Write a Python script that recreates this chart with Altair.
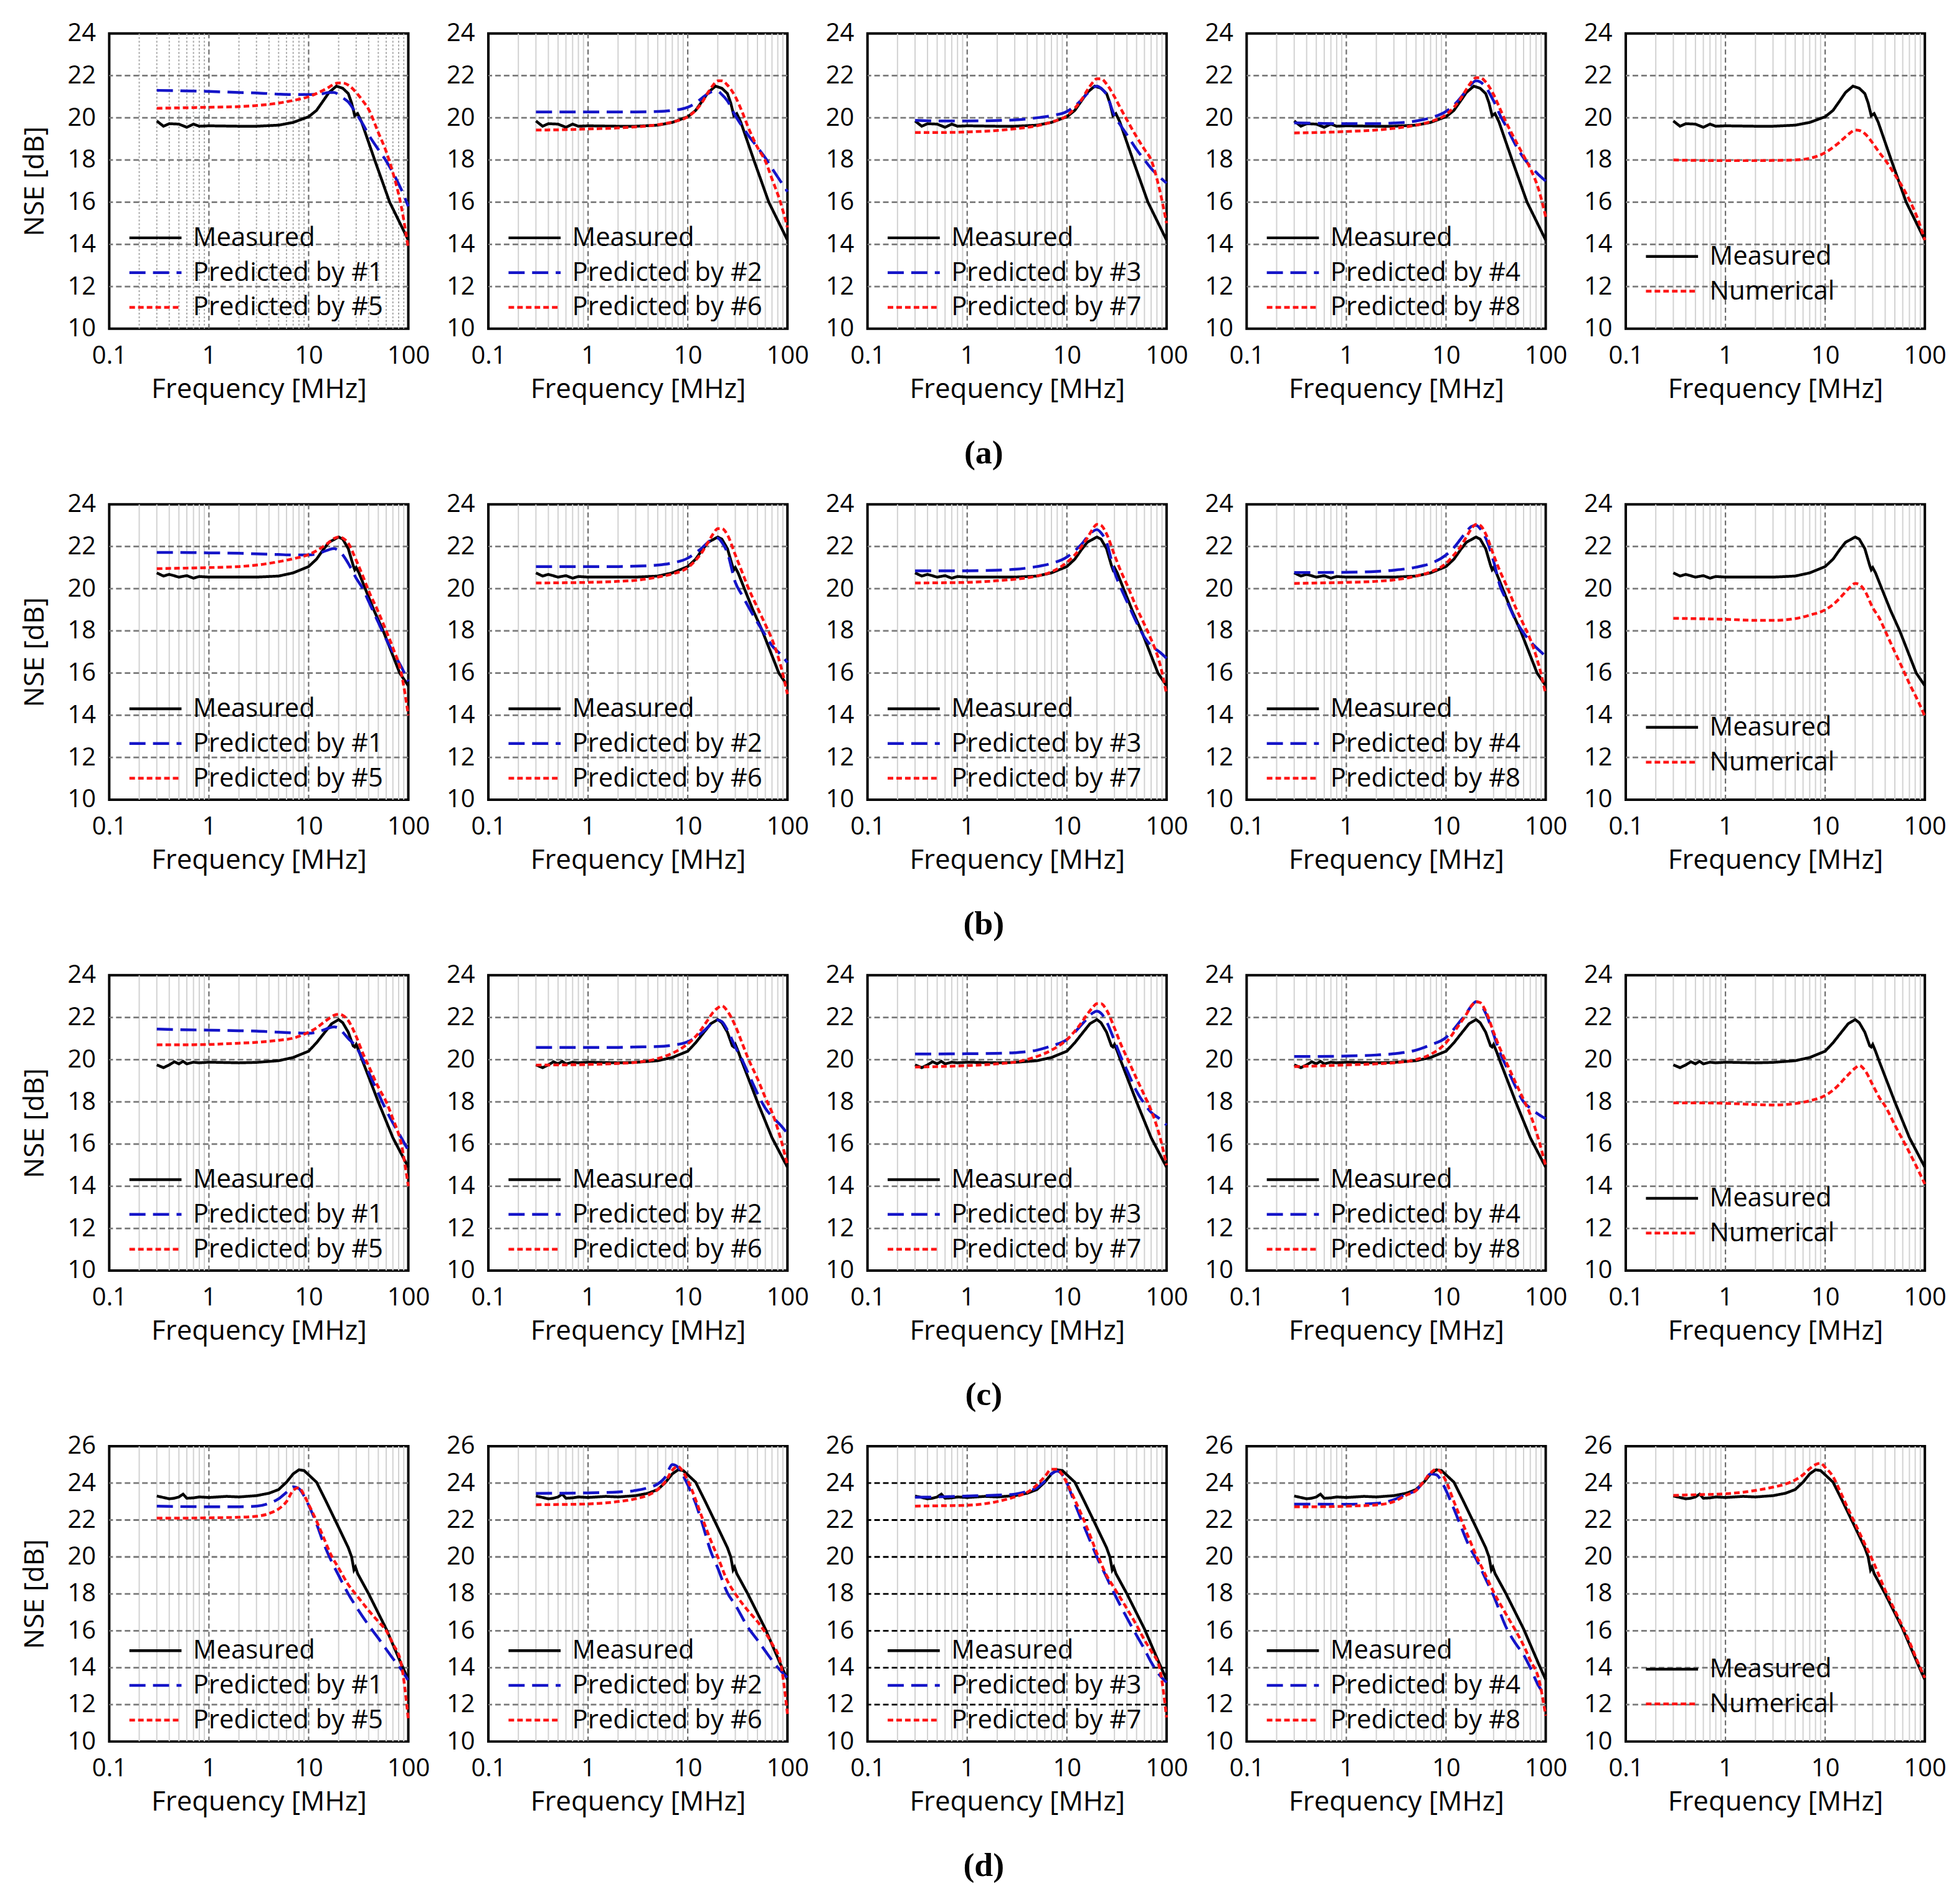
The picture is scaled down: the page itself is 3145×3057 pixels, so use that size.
import altair as alt
import pandas as pd

FONT = "Open Sans"
BLUE = "#1414c8"
RED = "#ff1414"
DASH_B = [26, 12]
DASH_R = [9, 5]

X_TICKS = [0.1, 1, 10, 100]
X_MAJOR_GRID = [1, 10]
X_MINOR_GRID = [0.2, 0.3, 0.4, 0.5, 0.6, 0.7, 0.8, 0.9, 2, 3, 4, 5, 6, 7, 8, 9,
                20, 30, 40, 50, 60, 70, 80, 90]
Y_TICKS_ABC = [10, 12, 14, 16, 18, 20, 22, 24]
Y_TICKS_D = [10, 12, 14, 16, 18, 20, 22, 24, 26]

# ---------------- measured curves ----------------
FMA = [0.3, 0.35, 0.4, 0.5, 0.6, 0.7, 0.8, 1, 2, 3, 5, 7, 10, 12, 14, 16, 19, 22, 25, 27, 29, 31, 34, 46, 65, 100]
MA = [19.85, 19.6, 19.72, 19.7, 19.55, 19.7, 19.6, 19.62, 19.6, 19.6, 19.65, 19.78, 20.05, 20.35, 20.8, 21.2,
      21.5, 21.4, 21.15, 20.7, 20.1, 20.2, 19.8, 18.0, 16.0, 14.2]

FMB = [0.3, 0.35, 0.4, 0.5, 0.6, 0.7, 0.8, 1, 2, 3, 5, 7, 10, 12, 14, 16, 20, 22, 25, 28, 29, 30, 32, 37, 45, 56, 82, 100]
MB = [20.75, 20.6, 20.68, 20.55, 20.62, 20.5, 20.58, 20.55, 20.55, 20.55, 20.6, 20.75, 21.05, 21.4, 21.85, 22.2,
      22.45, 22.35, 21.9, 21.1, 20.9, 21.0, 20.75, 20.0, 19.0, 18.0, 16.0, 15.4]

FMC = [0.3, 0.35, 0.4, 0.45, 0.5, 0.55, 0.6, 0.7, 0.8, 1, 2, 3, 5, 7, 10, 12, 14, 17, 20, 22, 25, 28, 29, 30, 32, 35, 50, 70, 100]
MC = [19.75, 19.62, 19.75, 19.9, 19.8, 19.92, 19.8, 19.88, 19.85, 19.88, 19.85, 19.87, 19.95, 20.1, 20.4, 20.8,
      21.2, 21.7, 21.9, 21.75, 21.3, 20.65, 20.6, 20.72, 20.4, 19.9, 18.0, 16.3, 14.9]

FMD = [0.3, 0.35, 0.4, 0.45, 0.5, 0.55, 0.6, 0.7, 0.8, 1, 1.5, 2, 3, 4, 5, 6, 7, 8, 9, 10, 12, 15, 20, 25, 27,
       28.5, 29.5, 31, 40, 60, 85, 100]
MD = [23.3, 23.22, 23.15, 23.18, 23.25, 23.4, 23.18, 23.2, 23.25, 23.22, 23.28, 23.25, 23.32, 23.45, 23.65, 24.05,
      24.5, 24.72, 24.68, 24.45, 24.05, 23.0, 21.6, 20.5, 20.0, 19.3, 19.45, 19.1, 18.0, 16.1, 14.2, 13.35]

# ---------------- predicted / numerical, rows (a)-(c) ----------------
FP = [0.3, 0.5, 1, 2, 3, 5, 7, 10, 12, 14, 16, 18, 20, 22, 25, 30, 35, 40, 50, 60, 70, 85, 100]

A1_P1 = [21.3, 21.28, 21.25, 21.2, 21.18, 21.12, 21.1, 21.1, 21.12, 21.15, 21.2, 21.2, 21.1, 20.95, 20.75, 20.2, 19.7, 19.2, 18.5, 17.95, 17.4, 16.6, 15.8]
A1_P5 = [20.45, 20.47, 20.5, 20.53, 20.58, 20.7, 20.82, 21.0, 21.15, 21.3, 21.45, 21.6, 21.65, 21.65, 21.55, 21.2, 20.8, 20.4, 19.3, 18.4, 17.4, 15.8, 13.8]
A2_P2 = [20.28, 20.28, 20.28, 20.28, 20.28, 20.3, 20.35, 20.5, 20.7, 20.95, 21.15, 21.25, 21.25, 21.1, 20.8, 20.1, 19.6, 19.2, 18.6, 18.1, 17.6, 17.0, 16.5]
A2_P6 = [19.42, 19.43, 19.47, 19.52, 19.57, 19.67, 19.8, 20.05, 20.35, 20.75, 21.2, 21.55, 21.75, 21.75, 21.55, 21.0, 20.3, 19.6, 18.6, 17.95, 17.1, 16.0, 14.8]
A3_P3 = [19.88, 19.85, 19.85, 19.87, 19.9, 20.0, 20.1, 20.3, 20.55, 20.85, 21.15, 21.4, 21.5, 21.4, 21.1, 20.1, 19.6, 19.2, 18.5, 18.0, 17.6, 17.2, 16.9]
A3_P7 = [19.3, 19.3, 19.33, 19.4, 19.48, 19.62, 19.8, 20.1, 20.45, 20.85, 21.3, 21.65, 21.85, 21.85, 21.6, 21.0, 20.4, 19.9, 19.1, 18.5, 18.0, 16.6, 15.0]
A4_P4 = [19.76, 19.74, 19.72, 19.72, 19.75, 19.85, 20.0, 20.3, 20.6, 20.95, 21.3, 21.6, 21.75, 21.7, 21.45, 20.8, 20.1, 19.6, 18.7, 18.1, 17.7, 17.3, 17.0]
A4_P8 = [19.28, 19.3, 19.35, 19.42, 19.5, 19.65, 19.82, 20.15, 20.5, 20.9, 21.35, 21.7, 21.9, 21.9, 21.7, 21.1, 20.4, 19.8, 18.9, 18.2, 17.6, 16.6, 15.3]
A5_N = [18.0, 17.98, 17.97, 17.97, 17.98, 18.0, 18.08, 18.35, 18.6, 18.85, 19.1, 19.3, 19.42, 19.4, 19.25, 18.8, 18.35, 18.0, 17.3, 16.7, 16.1, 15.2, 14.2]

B1_P1 = [21.72, 21.72, 21.7, 21.68, 21.65, 21.62, 21.6, 21.6, 21.65, 21.75, 21.85, 21.9, 21.8, 21.6, 21.2, 20.5, 20.0, 19.4, 18.4, 17.6, 17.0, 16.3, 15.6]
B1_P5 = [20.95, 20.97, 21.0, 21.05, 21.12, 21.28, 21.42, 21.62, 21.8, 22.0, 22.2, 22.38, 22.45, 22.4, 22.15, 21.35, 20.6, 19.9, 18.9, 18.0, 17.2, 16.0, 14.0]
B2_P2 = [21.05, 21.05, 21.05, 21.05, 21.07, 21.12, 21.22, 21.45, 21.7, 21.95, 22.2, 22.38, 22.4, 22.2, 21.7, 20.3, 19.7, 19.2, 18.4, 17.8, 17.3, 16.9, 16.5]
B2_P6 = [20.27, 20.28, 20.3, 20.35, 20.4, 20.55, 20.7, 21.0, 21.35, 21.75, 22.2, 22.6, 22.85, 22.85, 22.55, 21.6, 20.8, 20.1, 19.1, 18.3, 17.6, 16.4, 15.0]
B3_P3 = [20.85, 20.85, 20.85, 20.88, 20.92, 21.05, 21.2, 21.5, 21.8, 22.1, 22.45, 22.7, 22.8, 22.65, 22.2, 20.8, 20.0, 19.4, 18.4, 17.7, 17.3, 17.0, 16.7]
B3_P7 = [20.27, 20.28, 20.3, 20.38, 20.45, 20.6, 20.8, 21.25, 21.6, 22.0, 22.4, 22.8, 23.05, 23.0, 22.6, 21.6, 20.8, 20.2, 19.1, 18.3, 17.6, 16.5, 15.0]
B4_P4 = [20.77, 20.77, 20.78, 20.82, 20.88, 21.02, 21.2, 21.6, 21.95, 22.35, 22.7, 22.95, 23.0, 22.85, 22.4, 21.3, 20.1, 19.5, 18.5, 17.9, 17.5, 17.1, 16.8]
B4_P8 = [20.25, 20.27, 20.3, 20.35, 20.42, 20.6, 20.8, 21.2, 21.6, 22.0, 22.45, 22.85, 23.05, 23.0, 22.6, 21.6, 20.8, 20.2, 19.1, 18.3, 17.6, 16.4, 15.0]
B5_N = [18.6, 18.58, 18.55, 18.5, 18.5, 18.58, 18.75, 19.0, 19.25, 19.55, 19.85, 20.1, 20.25, 20.2, 19.9, 19.1, 18.6, 18.0, 17.0, 16.2, 15.5, 14.7, 13.95]

C1_P1 = [21.45, 21.42, 21.4, 21.37, 21.35, 21.3, 21.27, 21.25, 21.3, 21.4, 21.5, 21.55, 21.5, 21.3, 21.0, 20.6, 20.0, 19.4, 18.4, 17.6, 17.0, 16.3, 15.7]
C1_P5 = [20.7, 20.7, 20.72, 20.78, 20.82, 20.92, 21.02, 21.3, 21.5, 21.75, 21.95, 22.1, 22.15, 22.1, 21.85, 21.1, 20.3, 19.7, 18.7, 18.0, 17.2, 16.0, 14.0]
C2_P2 = [20.58, 20.58, 20.58, 20.58, 20.6, 20.62, 20.68, 20.85, 21.05, 21.3, 21.55, 21.8, 21.88, 21.8, 21.4, 20.6, 20.0, 19.4, 18.4, 17.7, 17.3, 16.9, 16.5]
C2_P6 = [19.74, 19.75, 19.77, 19.82, 19.87, 20.05, 20.3, 20.75, 21.1, 21.5, 21.9, 22.25, 22.45, 22.55, 22.3, 21.6, 20.8, 20.1, 19.1, 18.2, 17.5, 16.3, 15.0]
C3_P3 = [20.27, 20.27, 20.28, 20.3, 20.33, 20.45, 20.65, 20.95, 21.3, 21.65, 21.95, 22.2, 22.3, 22.2, 21.8, 20.9, 20.1, 19.5, 18.5, 17.9, 17.5, 17.2, 16.9]
C3_P7 = [19.65, 19.67, 19.72, 19.8, 19.88, 20.15, 20.45, 20.95, 21.35, 21.75, 22.15, 22.45, 22.65, 22.65, 22.35, 21.5, 20.7, 20.1, 19.1, 18.3, 17.6, 16.4, 15.0]
C4_P4 = [20.15, 20.15, 20.17, 20.22, 20.28, 20.45, 20.7, 21.05, 21.45, 21.85, 22.2, 22.55, 22.75, 22.65, 22.2, 21.2, 20.3, 19.7, 18.7, 18.0, 17.7, 17.4, 17.2]
C4_P8 = [19.67, 19.7, 19.75, 19.8, 19.85, 20.0, 20.25, 20.8, 21.3, 21.75, 22.15, 22.55, 22.75, 22.7, 22.3, 21.3, 20.5, 19.9, 18.9, 18.1, 17.4, 16.2, 14.95]
C5_N = [17.95, 17.95, 17.93, 17.87, 17.85, 17.92, 18.05, 18.3, 18.55, 18.85, 19.15, 19.4, 19.6, 19.72, 19.5, 18.8, 18.2, 17.8, 16.9, 16.2, 15.6, 14.8, 14.1]

# ---------------- predicted / numerical, row (d) ----------------
FD = [0.3, 0.5, 1, 2, 3, 4, 5, 6, 7, 8, 9, 10, 12, 14, 17, 20, 25, 30, 40, 50, 60, 70, 85, 100]

D1_P1 = [22.75, 22.73, 22.72, 22.72, 22.75, 22.9, 23.15, 23.5, 23.8, 23.7, 23.3, 22.8, 21.8, 20.8, 19.75, 19.0, 18.0, 17.3, 16.3, 15.6, 15.0, 14.5, 13.9, 13.3]
D1_P5 = [22.1, 22.1, 22.12, 22.15, 22.2, 22.35, 22.6, 23.0, 23.6, 23.75, 23.35, 22.85, 21.95, 21.1, 20.05, 19.4, 18.5, 17.95, 17.1, 16.5, 16.0, 15.3, 14.2, 11.2]
D2_P2 = [23.44, 23.45, 23.47, 23.52, 23.6, 23.75, 23.95, 24.35, 25.0, 24.85, 24.4, 23.9, 22.9, 21.8, 20.3, 19.4, 18.05, 17.4, 16.2, 15.5, 14.9, 14.4, 13.85, 13.45]
D2_P6 = [22.83, 22.84, 22.87, 23.0, 23.15, 23.35, 23.65, 24.1, 24.7, 24.9, 24.6, 24.15, 23.1, 22.1, 20.9, 20.0, 18.7, 18.0, 17.1, 16.5, 15.9, 15.3, 14.3, 11.5]
D3_P3 = [23.23, 23.25, 23.3, 23.35, 23.4, 23.55, 23.75, 24.1, 24.5, 24.65, 24.45, 24.0, 22.9, 22.0, 20.9, 20.0, 18.9, 18.0, 16.7, 15.75, 15.0, 14.3, 13.6, 13.2]
D3_P7 = [22.75, 22.77, 22.8, 23.0, 23.25, 23.5, 23.9, 24.35, 24.75, 24.75, 24.45, 24.0, 23.1, 22.3, 21.2, 20.2, 19.0, 18.3, 17.2, 16.3, 15.5, 14.9, 14.0, 11.3]
D4_P4 = [22.86, 22.86, 22.85, 22.9, 23.1, 23.4, 23.6, 24.1, 24.5, 24.45, 24.1, 23.6, 22.6, 21.7, 20.6, 19.9, 18.8, 17.9, 16.2, 15.3, 14.7, 14.0, 13.0, 12.5]
D4_P8 = [22.72, 22.72, 22.75, 22.82, 23.0, 23.35, 23.6, 24.1, 24.55, 24.75, 24.55, 24.1, 23.0, 22.1, 21.0, 20.1, 19.0, 18.1, 16.9, 16.0, 15.2, 14.4, 13.4, 11.4]
D5_N = [23.33, 23.37, 23.42, 23.6, 23.78, 23.95, 24.17, 24.45, 24.78, 25.0, 25.08, 24.85, 24.35, 23.6, 22.6, 21.8, 20.7, 19.8, 18.2, 17.1, 16.2, 15.4, 14.3, 13.45]

ROW_LABELS = ["(a)", "(b)", "(c)", "(d)"]

# legend symbol: a horizontal stroke of length 2*sqrt(size) starting at the entry's left edge
LEG_SYMBOL = "M-1,0H3"
LEG_SIZE = 1764  # sqrt -> 42 px


def panel(meas_f, meas_v, series, yticks, first, legend_y,
          minor_color="#d2d2d2", minor_dash=None, hgrid_color="#7a7a7a"):
    labels = ["Measured"] + [s[0] for s in series]
    colors = ["black"] + [s[3] for s in series]
    dashes = [[1, 0]] + [s[4] for s in series]

    X = alt.X("f:Q",
              scale=alt.Scale(type="log", domain=[0.1, 100], nice=False),
              axis=alt.Axis(values=X_TICKS, format="~g", title="Frequency [MHz]",
                            labelFlush=False, labelOverlap=False,
                            labelPadding=24, titlePadding=12))
    Y = alt.Y("v:Q",
              scale=alt.Scale(domain=[yticks[0], yticks[-1]], nice=False, zero=False),
              axis=alt.Axis(values=yticks, title="NSE [dB]" if first else None,
                            labelFlush=False, labelOverlap=False,
                            labelPadding=22, titlePadding=30))
    leg = alt.Legend(title=None, orient="none", legendX=30, legendY=legend_y,
                     labelFont=FONT, labelFontSize=42, labelColor="black",
                     labelLimit=600, labelOffset=58, rowPadding=11, padding=0,
                     symbolType=LEG_SYMBOL, symbolSize=LEG_SIZE, symbolStrokeWidth=4.5,
                     symbolFillColor="transparent")
    color = alt.Color("s:N", scale=alt.Scale(domain=labels, range=colors), legend=leg)
    dash = alt.StrokeDash("s:N", scale=alt.Scale(domain=labels, range=dashes), legend=leg)

    minor_kw = dict(color=minor_color, strokeWidth=2)
    if minor_dash:
        minor_kw["strokeDash"] = minor_dash
    minor = alt.Chart(pd.DataFrame({"f": X_MINOR_GRID})).mark_rule(**minor_kw).encode(x=X)
    major = alt.Chart(pd.DataFrame({"f": X_MAJOR_GRID})).mark_rule(
        color="#6e6e6e", strokeWidth=2.2, strokeDash=[8, 5]).encode(x=X)
    hgrid = alt.Chart(pd.DataFrame({"v": yticks[1:-1]})).mark_rule(
        color=hgrid_color, strokeWidth=2.8, strokeDash=[9, 5]).encode(y=Y)

    meas = pd.DataFrame({"f": meas_f, "v": meas_v, "s": "Measured"})
    pred = pd.concat([pd.DataFrame({"f": s[1], "v": s[2], "s": s[0]}) for s in series],
                     ignore_index=True)
    mline = alt.Chart(meas).mark_line(strokeWidth=4.5).encode(
        x=X, y=Y, color=color, strokeDash=dash)
    pline = alt.Chart(pred).mark_line(strokeWidth=4.5, interpolate="monotone").encode(
        x=X, y=Y, color=color, strokeDash=dash)
    return alt.layer(minor, major, hgrid, mline, pline).properties(width=482, height=476)


def row(panels, label):
    return alt.hconcat(*panels, spacing=22).properties(
        title=alt.TitleParams(text=label, orient="bottom", anchor="middle",
                              font="Liberation Serif", fontSize=54, fontWeight="bold",
                              color="black", offset=52)
    ).resolve_scale(color="independent", strokeDash="independent").resolve_legend(
        color="independent", strokeDash="independent")


L3 = 306
L2 = 336

row_a = row([
    panel(FMA, MA, [("Predicted by #1", FP, A1_P1, BLUE, DASH_B), ("Predicted by #5", FP, A1_P5, RED, DASH_R)],
          Y_TICKS_ABC, True, L3, minor_color="#a8a8a8", minor_dash=[3, 3]),
    panel(FMA, MA, [("Predicted by #2", FP, A2_P2, BLUE, DASH_B), ("Predicted by #6", FP, A2_P6, RED, DASH_R)],
          Y_TICKS_ABC, False, L3),
    panel(FMA, MA, [("Predicted by #3", FP, A3_P3, BLUE, DASH_B), ("Predicted by #7", FP, A3_P7, RED, DASH_R)],
          Y_TICKS_ABC, False, L3),
    panel(FMA, MA, [("Predicted by #4", FP, A4_P4, BLUE, DASH_B), ("Predicted by #8", FP, A4_P8, RED, DASH_R)],
          Y_TICKS_ABC, False, L3),
    panel(FMA, MA, [("Numerical", FP, A5_N, RED, DASH_R)], Y_TICKS_ABC, False, L2),
], ROW_LABELS[0])

row_b = row([
    panel(FMB, MB, [("Predicted by #1", FP, B1_P1, BLUE, DASH_B), ("Predicted by #5", FP, B1_P5, RED, DASH_R)],
          Y_TICKS_ABC, True, L3),
    panel(FMB, MB, [("Predicted by #2", FP, B2_P2, BLUE, DASH_B), ("Predicted by #6", FP, B2_P6, RED, DASH_R)],
          Y_TICKS_ABC, False, L3),
    panel(FMB, MB, [("Predicted by #3", FP, B3_P3, BLUE, DASH_B), ("Predicted by #7", FP, B3_P7, RED, DASH_R)],
          Y_TICKS_ABC, False, L3),
    panel(FMB, MB, [("Predicted by #4", FP, B4_P4, BLUE, DASH_B), ("Predicted by #8", FP, B4_P8, RED, DASH_R)],
          Y_TICKS_ABC, False, L3),
    panel(FMB, MB, [("Numerical", FP, B5_N, RED, DASH_R)], Y_TICKS_ABC, False, L2),
], ROW_LABELS[1])

row_c = row([
    panel(FMC, MC, [("Predicted by #1", FP, C1_P1, BLUE, DASH_B), ("Predicted by #5", FP, C1_P5, RED, DASH_R)],
          Y_TICKS_ABC, True, L3),
    panel(FMC, MC, [("Predicted by #2", FP, C2_P2, BLUE, DASH_B), ("Predicted by #6", FP, C2_P6, RED, DASH_R)],
          Y_TICKS_ABC, False, L3),
    panel(FMC, MC, [("Predicted by #3", FP, C3_P3, BLUE, DASH_B), ("Predicted by #7", FP, C3_P7, RED, DASH_R)],
          Y_TICKS_ABC, False, L3),
    panel(FMC, MC, [("Predicted by #4", FP, C4_P4, BLUE, DASH_B), ("Predicted by #8", FP, C4_P8, RED, DASH_R)],
          Y_TICKS_ABC, False, L3),
    panel(FMC, MC, [("Numerical", FP, C5_N, RED, DASH_R)], Y_TICKS_ABC, False, L2),
], ROW_LABELS[2])

row_d = row([
    panel(FMD, MD, [("Predicted by #1", FD, D1_P1, BLUE, DASH_B), ("Predicted by #5", FD, D1_P5, RED, DASH_R)],
          Y_TICKS_D, True, L3),
    panel(FMD, MD, [("Predicted by #2", FD, D2_P2, BLUE, DASH_B), ("Predicted by #6", FD, D2_P6, RED, DASH_R)],
          Y_TICKS_D, False, L3),
    panel(FMD, MD, [("Predicted by #3", FD, D3_P3, BLUE, DASH_B), ("Predicted by #7", FD, D3_P7, RED, DASH_R)],
          Y_TICKS_D, False, L3, hgrid_color="black"),
    panel(FMD, MD, [("Predicted by #4", FD, D4_P4, BLUE, DASH_B), ("Predicted by #8", FD, D4_P8, RED, DASH_R)],
          Y_TICKS_D, False, L3),
    panel(FMD, MD, [("Numerical", FD, D5_N, RED, DASH_R)], Y_TICKS_D, False, L2),
], ROW_LABELS[3])

chart = alt.vconcat(row_a, row_b, row_c, row_d, spacing=33).resolve_scale(
    color="independent", strokeDash="independent"
).resolve_legend(color="independent", strokeDash="independent").properties(
    padding={"left": 24, "top": 18, "right": 10, "bottom": 10},
    background="white"
).configure_view(
    stroke="black", strokeWidth=4
).configure_axis(
    labelFont=FONT, labelFontSize=40, labelColor="black",
    titleFont=FONT, titleFontSize=44, titleColor="black", titleFontWeight="normal",
    ticks=False, domain=False, grid=False
)

chart.save("out.html", embed_options={"renderer": "svg", "actions": False})
